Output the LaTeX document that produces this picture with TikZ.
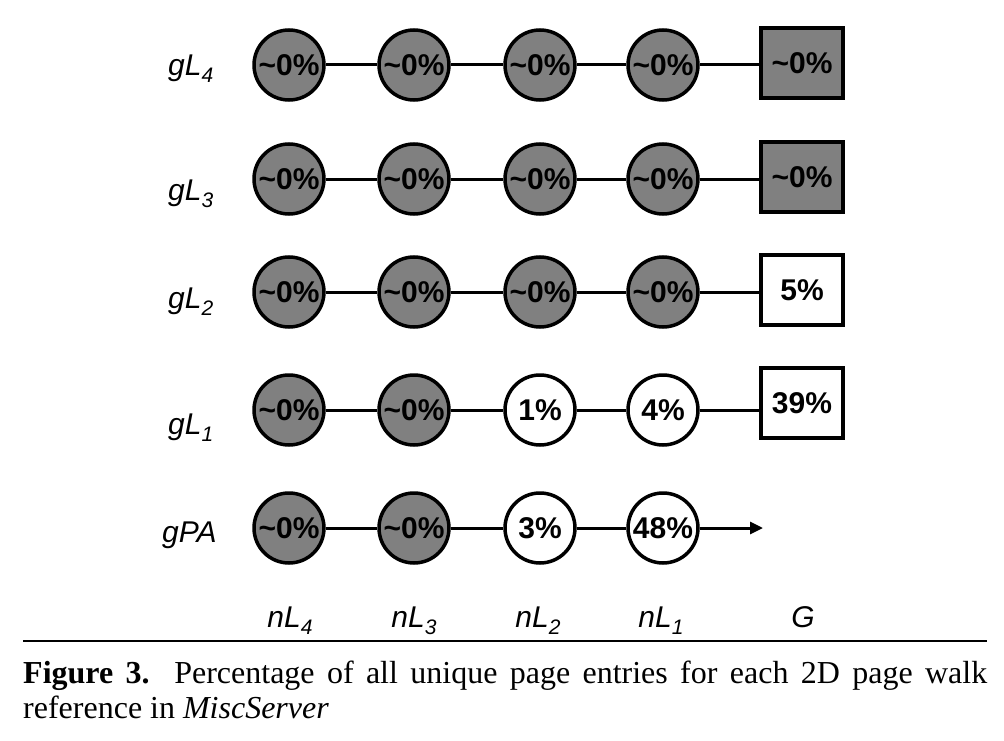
\documentclass[tikz,border=0pt]{standalone}
\usepackage{fontspec}
\setmainfont{Liberation Serif}
\newfontfamily\diagfont{Liberation Sans}
\usetikzlibrary{arrows.meta}

\newcommand{\lsub}[1]{\raisebox{-7pt}{\fontsize{21}{21}\selectfont #1}}
\newcommand{\nearzero}{\textasciitilde0\%}

\begin{document}
\begin{tikzpicture}[
            x=1pt, y=-1pt,
            walk/.style={circle, draw, line width=3.5pt, minimum size=70pt,
                inner sep=0pt, font=\diagfont\bfseries\fontsize{30}{30}\selectfont},
            guest/.style={rectangle, draw, line width=3.5pt, minimum width=82pt,
                minimum height=70pt, inner sep=0pt, font=\diagfont\bfseries\fontsize{30}{30}\selectfont},
            hot/.style={fill=gray},
            link/.style={line width=3pt},
            rowlbl/.style={anchor=base west, inner sep=0pt, font=\diagfont\itshape\fontsize{30}{30}\selectfont},
            collbl/.style={anchor=base, inner sep=0pt, font=\diagfont\itshape\fontsize{30}{30}\selectfont},
        ]
            \useasboundingbox (0,0) rectangle (1004,741);
            % gL4
            \node[rowlbl] (lg4) at (168,76) {gL\lsub{4}};
            \node[walk, hot] (g4n4) at (289,65) {\nearzero};
            \node[walk, hot] (g4n3) at (414,65) {\nearzero};
            \node[walk, hot] (g4n2) at (540,65) {\nearzero};
            \node[walk, hot] (g4n1) at (663,65) {\nearzero};
            \node[guest, hot] (g4g) at (802,63) {\nearzero};
            % gL3
            \node[rowlbl] (lg3) at (168,200) {gL\lsub{3}};
            \node[walk, hot] (g3n4) at (289,179) {\nearzero};
            \node[walk, hot] (g3n3) at (414,179) {\nearzero};
            \node[walk, hot] (g3n2) at (540,179) {\nearzero};
            \node[walk, hot] (g3n1) at (663,179) {\nearzero};
            \node[guest, hot] (g3g) at (802,177) {\nearzero};
            % gL2
            \node[rowlbl] (lg2) at (168,308) {gL\lsub{2}};
            \node[walk, hot] (g2n4) at (289,292) {\nearzero};
            \node[walk, hot] (g2n3) at (414,292) {\nearzero};
            \node[walk, hot] (g2n2) at (540,292) {\nearzero};
            \node[walk, hot] (g2n1) at (663,292) {\nearzero};
            \node[guest] (g2g) at (802,290) {5\%};
            % gL1
            \node[rowlbl] (lg1) at (168,434) {gL\lsub{1}};
            \node[walk, hot] (g1n4) at (289,410) {\nearzero};
            \node[walk, hot] (g1n3) at (414,410) {\nearzero};
            \node[walk] (g1n2) at (540,410) {1\%};
            \node[walk] (g1n1) at (663,410) {4\%};
            \node[guest] (g1g) at (802,403) {39\%};
            % gPA
            \node[rowlbl] (lgpa) at (162,542) {gPA};
            \node[walk, hot] (gpan4) at (289,528) {\nearzero};
            \node[walk, hot] (gpan3) at (414,528) {\nearzero};
            \node[walk] (gpan2) at (540,528) {3\%};
            \node[walk] (gpan1) at (663,528) {48\%};
            \coordinate (gpaend) at (763,528);
            % connectors
            \draw[link] (g4n4) -- (g4n3) -- (g4n2) -- (g4n1) -- (g4n1 -| g4g.west);
            \draw[link] (g3n4) -- (g3n3) -- (g3n2) -- (g3n1) -- (g3n1 -| g3g.west);
            \draw[link] (g2n4) -- (g2n3) -- (g2n2) -- (g2n1) -- (g2n1 -| g2g.west);
            \draw[link] (g1n4) -- (g1n3) -- (g1n2) -- (g1n1) -- (g1n1 -| g1g.west);
            \draw[link] (gpan4) -- (gpan3) -- (gpan2) -- (gpan1);
            \draw[link, -{Triangle[length=13pt, width=12pt]}] (gpan1) -- (gpaend);
            % column labels
            \node[collbl] (cn4) at (290,627) {nL\lsub{4}};
            \node[collbl] (cn3) at (414,627) {nL\lsub{3}};
            \node[collbl] (cn2) at (538,627) {nL\lsub{2}};
            \node[collbl] (cn1) at (661,627) {nL\lsub{1}};
            \node[collbl] (cg) at (803,627) {G};
            % caption
            \draw[line width=1.5pt] (23,641) -- (987,641);
            \node[anchor=base west, text width=964pt, align=justify, inner sep=0pt,
                font=\fontsize{32}{35}\selectfont] (caption) at (23,683)
                {{\bfseries Figure 3.}\ \ Percentage of all unique page entries for each 2D page walk\linebreak
                reference in \textit{MiscServer}};
        \end{tikzpicture}
\end{document}
